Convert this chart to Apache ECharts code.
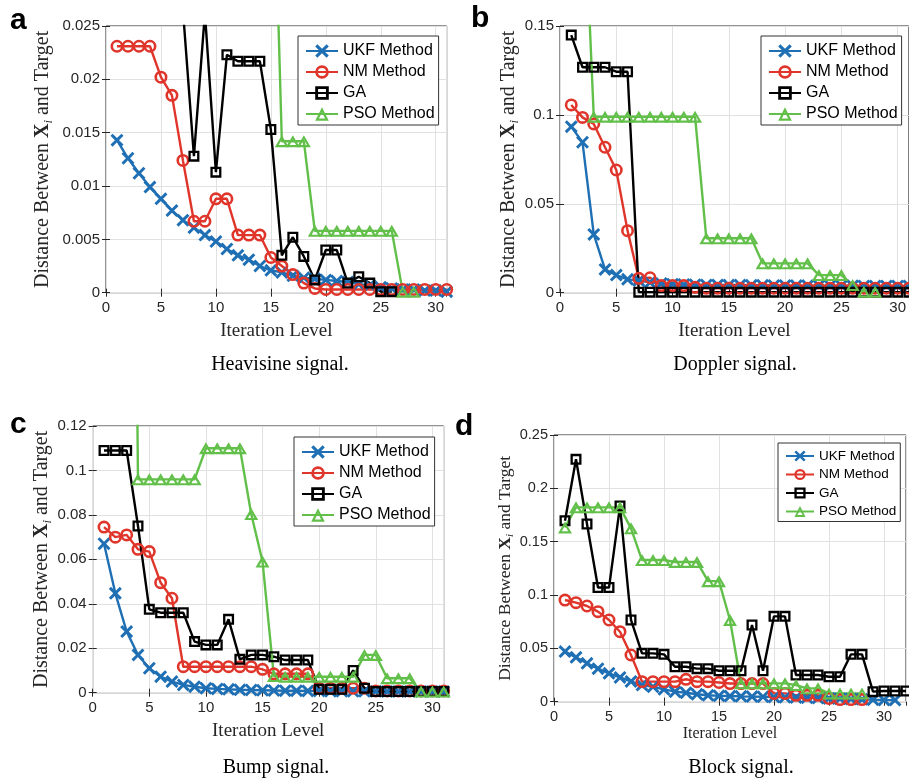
<!DOCTYPE html>
<html>
<head>
<meta charset="utf-8">
<script src="https://cdn.jsdelivr.net/npm/echarts@6/dist/echarts.min.js"></script>
<style>
  html, body { margin: 0; padding: 0; background: #fff; }
  #chart { width: 909px; height: 779px; }
</style>
</head>
<body>
<div id="chart"></div>
<script>
// ---- Data: distance between X_i and target at each iteration ----
const methodNames = ['UKF Method', 'NM Method', 'GA', 'PSO Method'];

// Heavisine signal
const heavisineUKF = [0.0143, 0.0126, 0.0112, 0.0099, 0.0088, 0.0077, 0.0068, 0.0061, 0.0054, 0.0048,
  0.0041, 0.0035, 0.0031, 0.0025, 0.0021, 0.0019, 0.0016, 0.0014, 0.0013, 0.0012,
  0.0011, 0.0010, 0.0008, 0.0007, 0.0005, 0.0004, 0.0003, 0.0003, 0.0002, 0.0002, 0.0001];
const heavisineNM = [0.0231, 0.0231, 0.0231, 0.0231, 0.0202, 0.0185, 0.0124, 0.0067, 0.0067, 0.0088,
  0.0088, 0.0054, 0.0054, 0.0054, 0.0033, 0.0025, 0.0017, 0.0009, 0.0004, 0.0003,
  0.0003, 0.0003, 0.0003, 0.0003, 0.0003, 0.0003, 0.0003, 0.0003, 0.0003, 0.0003, 0.0003];
const heavisineGA = [0.031, 0.030, 0.030, 0.029, 0.029, 0.028, 0.0265, 0.0128, 0.0262, 0.0113,
  0.0223, 0.0217, 0.0217, 0.0217, 0.0153, 0.0035, 0.0052, 0.0034, 0.0012, 0.0040,
  0.0040, 0.0009, 0.0015, 0.0009, 0.0001, 0.0001];
const heavisinePSO = [0.052, 0.052, 0.052, 0.052, 0.052, 0.052, 0.052, 0.052, 0.052, 0.052,
  0.052, 0.052, 0.052, 0.052, 0.050, 0.0142, 0.0142, 0.0142, 0.0058, 0.0058,
  0.0058, 0.0058, 0.0058, 0.0058, 0.0058, 0.0058, 0.0001, 0.0001];

// Doppler signal
const dopplerUKF = [0.0934, 0.0846, 0.0328, 0.0131, 0.0099, 0.0075, 0.0068, 0.0058, 0.0052, 0.0048,
  0.0046, 0.0045, 0.0044, 0.0044, 0.0043, 0.0043, 0.0042, 0.0042, 0.0041, 0.0041,
  0.0040, 0.0040, 0.0040, 0.0039, 0.0039, 0.0039, 0.0038, 0.0038, 0.0038, 0.0038, 0.0038];
const dopplerNM = [0.1056, 0.0986, 0.0949, 0.0818, 0.0690, 0.0349, 0.0081, 0.0084, 0.0040, 0.0040,
  0.0040, 0.0030, 0.0025, 0.0025, 0.0025, 0.0025, 0.0025, 0.0025, 0.0025, 0.0025,
  0.0025, 0.0025, 0.0025, 0.0025, 0.0025, 0.0025, 0.0025, 0.0025, 0.0025, 0.0025, 0.0025];
const dopplerGA = [0.1449, 0.1268, 0.1268, 0.1268, 0.1243, 0.1243, 0.0003, 0.0003, 0.0003, 0.0003,
  0.0003, 0.0003, 0.0003, 0.0003, 0.0003, 0.0003, 0.0003, 0.0003, 0.0003, 0.0003,
  0.0003, 0.0003, 0.0003, 0.0003, 0.0003, 0.0003, 0.0003, 0.0003, 0.0003, 0.0003, 0.0003];
const dopplerPSO = [0.25, 0.245, 0.099, 0.099, 0.099, 0.099, 0.099, 0.099, 0.099, 0.099,
  0.099, 0.099, 0.0306, 0.0306, 0.0306, 0.0306, 0.0306, 0.0165, 0.0165, 0.0165,
  0.0165, 0.0165, 0.0099, 0.0099, 0.0099, 0.0043, 0.0006, 0.0006];

// Bump signal
const bumpUKF = [0.0670, 0.0447, 0.0275, 0.0170, 0.0110, 0.0072, 0.0050, 0.0035, 0.0027, 0.0020,
  0.0017, 0.0015, 0.0013, 0.0012, 0.0011, 0.0010, 0.0009, 0.0009, 0.0008, 0.0008,
  0.0007, 0.0007, 0.0006, 0.0006, 0.0006, 0.0005, 0.0005, 0.0005, 0.0005, 0.0005, 0.0005];
const bumpNM = [0.0745, 0.0700, 0.0710, 0.0645, 0.0635, 0.0495, 0.0425, 0.0117, 0.0117, 0.0117,
  0.0117, 0.0117, 0.0117, 0.0117, 0.0105, 0.0085, 0.0085, 0.0085, 0.0085, 0.0020,
  0.0020, 0.0020, 0.0020, 0.0020, 0.0008, 0.0008, 0.0008, 0.0008, 0.0008, 0.0008, 0.0008];
const bumpGA = [0.109, 0.109, 0.109, 0.075, 0.0375, 0.036, 0.036, 0.036, 0.023, 0.0215,
  0.0215, 0.033, 0.015, 0.017, 0.017, 0.0162, 0.0147, 0.0147, 0.0147, 0.0015,
  0.0015, 0.0015, 0.0100, 0.0020, 0.0005, 0.0005, 0.0005, 0.0005, 0.0005, 0.0005, 0.0005];
const bumpPSO = [0.6, 0.6, 0.6, 0.096, 0.096, 0.096, 0.096, 0.096, 0.096, 0.110,
  0.110, 0.110, 0.110, 0.0804, 0.059, 0.0075, 0.0072, 0.0072, 0.0072, 0.0072,
  0.0072, 0.0072, 0.0072, 0.017, 0.017, 0.0065, 0.0065, 0.0065, 0.0005, 0.0005, 0.0005];

// Block signal
const blockUKF = [0.0470, 0.0416, 0.0360, 0.0310, 0.0266, 0.0228, 0.0190, 0.0156, 0.0140, 0.0116,
  0.0094, 0.0084, 0.0070, 0.0060, 0.0055, 0.0053, 0.0050, 0.0048, 0.0046, 0.0044,
  0.0042, 0.0040, 0.0037, 0.0034, 0.0031, 0.0028, 0.0025, 0.0022, 0.0018, 0.0016, 0.0015];
const blockNM = [0.0953, 0.0928, 0.0897, 0.0844, 0.0766, 0.0656, 0.0438, 0.0188, 0.0188, 0.0188,
  0.0188, 0.0210, 0.0188, 0.0188, 0.0180, 0.0170, 0.0170, 0.0170, 0.0170, 0.0078,
  0.0078, 0.0060, 0.0060, 0.0060, 0.0030, 0.0020, 0.0020, 0.0020];
const blockGA = [0.1697, 0.2272, 0.1666, 0.1070, 0.1070, 0.1834, 0.0766, 0.0453, 0.0453, 0.0444,
  0.0328, 0.0328, 0.0310, 0.0310, 0.0290, 0.0290, 0.0290, 0.0719, 0.0290, 0.0800,
  0.0800, 0.0250, 0.0250, 0.0250, 0.0234, 0.0234, 0.0444, 0.0444, 0.0094, 0.0100,
  0.0100, 0.0100];
const blockPSO = [0.1634, 0.1822, 0.1822, 0.1822, 0.1822, 0.1822, 0.1625, 0.1328, 0.1328, 0.1328,
  0.1310, 0.1310, 0.1310, 0.1130, 0.1130, 0.0766, 0.0172, 0.0172, 0.0172, 0.0172,
  0.0172, 0.0156, 0.0125, 0.0125, 0.0078, 0.0078, 0.0078, 0.0078];

// ---- Appearance ----
const SANS = '"Liberation Sans", Arial, Helvetica, sans-serif';
const SERIF = '"Liberation Serif", "Times New Roman", serif';
const TEXT = '#262626';

// marker outlines drawn as filled paths with holes so lines show through
const MARK = {
  x: 'path://M0,1.6 L1.6,0 L5,3.4 L8.4,0 L10,1.6 L6.6,5 L10,8.4 L8.4,10 L5,6.6 L1.6,10 L0,8.4 L3.4,5 Z',
  circle: 'path://M0,5 A5,5 0 1,1 10,5 A5,5 0 1,1 0,5 Z M2,5 A3,3 0 1,0 8,5 A3,3 0 1,0 2,5 Z',
  square: 'path://M0,0 L10,0 L10,10 L0,10 Z M2.1,2.1 L2.1,7.9 L7.9,7.9 L7.9,2.1 Z',
  triangle: 'path://M5,0 L10,9 L0,9 Z M5,3.3 L2.72,7.4 L7.28,7.4 Z'
};
const methodStyles = [
  { color: '#1f6fb4', symbol: MARK.x, size: [13, 13] },
  { color: '#e0352b', symbol: MARK.circle, size: [13, 13] },
  { color: '#000000', symbol: MARK.square, size: [11, 11] },
  { color: '#62c04a', symbol: MARK.triangle, size: [14, 12] }
];

const panels = [
  { letter: 'a', caption: 'Heavisine signal.', data: [heavisineUKF, heavisineNM, heavisineGA, heavisinePSO],
    grid: { left: 106, top: 26, width: 340.7, height: 266.7 }, xMax: 31, yMax: 0.025, yStep: 0.005,
    legendPos: { left: 298, top: 36 }, letterPos: [10, 21], captionPos: [280, 365],
    tick: 15, legendFont: 16, nameFont: 20, xNameFont: 19, yGap: 51, xGap: 29, legendRow: 22, iconW: 32 },
  { letter: 'b', caption: 'Doppler signal.', data: [dopplerUKF, dopplerNM, dopplerGA, dopplerPSO],
    grid: { left: 560, top: 26, width: 350.3, height: 266.7 }, xMax: 31, yMax: 0.15, yStep: 0.05,
    legendPos: { left: 761, top: 36 }, letterPos: [471, 19], captionPos: [735, 365],
    tick: 15, legendFont: 16, nameFont: 20, xNameFont: 19, yGap: 37, xGap: 29, legendRow: 22, iconW: 32 },
  { letter: 'c', caption: 'Bump signal.', data: [bumpUKF, bumpNM, bumpGA, bumpPSO],
    grid: { left: 92.7, top: 426, width: 351, height: 266.7 }, xMax: 31, yMax: 0.12, yStep: 0.02,
    legendPos: { left: 294, top: 437 }, letterPos: [10, 425], captionPos: [276, 768],
    tick: 15, legendFont: 16, nameFont: 20, xNameFont: 19, yGap: 38, xGap: 29, legendRow: 22, iconW: 32 },
  { letter: 'd', caption: 'Block signal.', data: [blockUKF, blockNM, blockGA, blockPSO],
    grid: { left: 554, top: 435, width: 352, height: 266.7 }, xMax: 32, yMax: 0.25, yStep: 0.05,
    legendPos: { left: 778, top: 443 }, letterPos: [455, 427], captionPos: [741, 768],
    tick: 14.5, legendFont: 13.5, nameFont: 17.5, xNameFont: 16, yGap: 33, xGap: 23, legendRow: 18.5, iconW: 28 }
];

const toPoints = arr => arr.map((v, i) => [i + 1, v]);

const option = {
  animation: false,
  backgroundColor: '#ffffff',
  grid: [], xAxis: [], yAxis: [], legend: [], series: [], graphic: []
};

panels.forEach((p, k) => {
  option.grid.push(Object.assign({
    show: true, borderColor: TEXT, borderWidth: 1, backgroundColor: 'transparent', containLabel: false
  }, p.grid));

  const tickStyle = { show: true, inside: true, length: 4, lineStyle: { color: TEXT, width: 1 } };
  const split = { show: true, lineStyle: { color: '#e1e1e1', width: 1 } };

  // bottom x axis with labels, and a mirrored top axis for the inward ticks
  option.xAxis.push({
    type: 'value', gridIndex: k, min: 0, max: p.xMax, interval: 5,
    name: 'Iteration Level', nameLocation: 'middle', nameGap: p.xGap,
    nameTextStyle: { fontFamily: SERIF, fontSize: p.xNameFont, color: TEXT },
    axisLine: { show: false }, axisTick: tickStyle, splitLine: split,
    axisLabel: { fontFamily: SANS, fontSize: p.tick, color: TEXT, margin: 8, showMaxLabel: false }
  });
  option.xAxis.push({
    type: 'value', gridIndex: k, position: 'top', min: 0, max: p.xMax, interval: 5,
    axisLine: { show: false }, axisTick: tickStyle, splitLine: { show: false }, axisLabel: { show: false }
  });

  const subSize = Math.round(p.nameFont * 0.65);
  option.yAxis.push({
    type: 'value', gridIndex: k, min: 0, max: p.yMax, interval: p.yStep,
    name: '{n|Distance Between }{b|X}{s|i}{n| and Target}',
    nameLocation: 'middle', nameRotate: 90, nameGap: p.yGap,
    nameTextStyle: {
      color: TEXT,
      rich: {
        n: { fontFamily: SERIF, fontSize: p.nameFont, color: TEXT, lineHeight: p.nameFont + 4, verticalAlign: 'middle' },
        b: { fontFamily: SERIF, fontSize: p.nameFont, fontWeight: 'bold', color: TEXT, lineHeight: p.nameFont + 4, verticalAlign: 'middle' },
        s: { fontFamily: SERIF, fontSize: subSize, fontStyle: 'italic', color: TEXT, lineHeight: subSize, verticalAlign: 'bottom' }
      }
    },
    axisLine: { show: false }, axisTick: tickStyle, splitLine: split,
    axisLabel: { fontFamily: SANS, fontSize: p.tick, color: TEXT, margin: 6 }
  });
  option.yAxis.push({
    type: 'value', gridIndex: k, position: 'right', min: 0, max: p.yMax, interval: p.yStep,
    axisLine: { show: false }, axisTick: tickStyle, splitLine: { show: false }, axisLabel: { show: false }
  });

  p.data.forEach((arr, m) => {
    const st = methodStyles[m];
    option.series.push({
      type: 'line', name: methodNames[m], xAxisIndex: 2 * k, yAxisIndex: 2 * k,
      data: toPoints(arr), clip: true,
      symbol: st.symbol, symbolSize: st.size, showSymbol: true,
      lineStyle: { color: st.color, width: 2.4 },
      itemStyle: { color: st.color, borderWidth: 0 },
      emphasis: { disabled: true }, silent: true
    });
  });

  const iconH = Math.round(p.legendFont * 1.05);
  option.legend.push(Object.assign({
    data: methodNames, orient: 'vertical', selectedMode: false,
    itemWidth: p.iconW, itemHeight: iconH, itemGap: p.legendRow - iconH,
    padding: [Math.round(p.legendRow * 0.3), 4, 3, 7],
    backgroundColor: '#ffffff', borderColor: '#333333', borderWidth: 1, borderRadius: 0,
    textStyle: { fontFamily: SANS, fontSize: p.legendFont, color: '#000', lineHeight: p.legendFont }
  }, p.legendPos));

  option.graphic.push({
    type: 'text', x: p.letterPos[0], y: p.letterPos[1],
    style: { text: p.letter, font: 'bold 30px ' + SANS, fill: '#000', textVerticalAlign: 'middle' }
  });
  option.graphic.push({
    type: 'text', x: p.captionPos[0], y: p.captionPos[1],
    style: { text: p.caption, font: '20px ' + SERIF, fill: '#000', textAlign: 'center', textVerticalAlign: 'middle' }
  });
});

const chart = echarts.init(document.getElementById('chart'), null, { renderer: 'canvas' });
chart.setOption(option);
</script>
</body>
</html>
